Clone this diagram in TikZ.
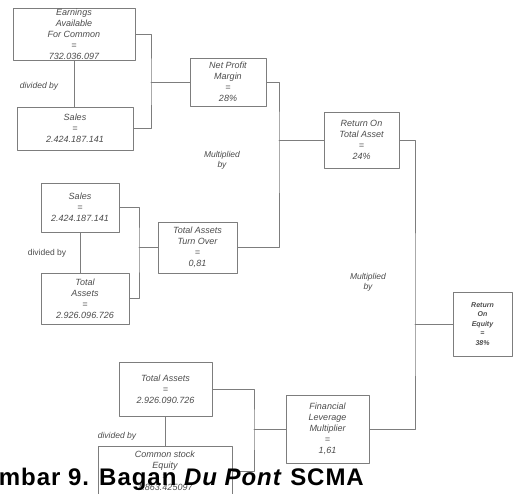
\documentclass[tikz,border=0pt]{standalone}
\usepackage{fontspec}
\setmainfont{Liberation Sans}
\definecolor{garis}{RGB}{125,125,125}
\definecolor{teks}{RGB}{75,75,75}
\begin{document}
\begin{tikzpicture}[line join = round, line cap = round,x=1pt,y=-1pt]
			\tikzset{kotak/.style={draw=garis,line width=0.8pt,inner sep=0pt,align=center,text=teks,
					font=\fontsize{9}{11}\selectfont\itshape},
				ket/.style={text=teks,align=center,font=\fontsize{8.5}{10}\selectfont\itshape},
				hub/.style={draw=garis,line width=0.8pt}}
			\useasboundingbox(0,0)rectangle(513,493);
			\clip(0,0)rectangle(513,493);
			% kolom kiri
			\node[kotak,minimum width=122pt,minimum height=52pt](earn)at(74,34){Earnings\\Available\\For Common\\=\\732.036.097};
			\node[kotak,minimum width=116pt,minimum height=43pt](sales)at(75,128.5){Sales\\=\\2.424.187.141};
			\node[kotak,minimum width=78pt,minimum height=49pt](sales2)at(80,207.5){Sales\\=\\2.424.187.141};
			\node[kotak,minimum width=88pt,minimum height=51pt](ta)at(85,298.5){Total\\Assets\\=\\2.926.096.726};
			\node[kotak,minimum width=93pt,minimum height=54pt](ta2)at(165.5,389){Total Assets\\=\\2.926.090.726};
			\node[kotak,minimum width=134pt,minimum height=50pt](cse)at(165,471){Common stock\\Equity\\=\\1.863.425097};
			% kolom tengah
			\node[kotak,minimum width=76pt,minimum height=48pt](npm)at(228,82){Net Profit\\Margin\\=\\28\%};
			\node[kotak,minimum width=79pt,minimum height=51pt](tato)at(197.5,247.5){Total Assets\\Turn Over\\=\\0,81};
			\node[kotak,minimum width=83pt,minimum height=68pt](flm)at(327.5,429){Financial\\Leverage\\Multiplier\\=\\1,61};
			\node[kotak,minimum width=75pt,minimum height=56pt](rota)at(361.5,140){Return On\\Total Asset\\=\\24\%};
			\node[kotak,minimum width=59pt,minimum height=64pt,font=\fontsize{7}{9.5}\selectfont\bfseries\itshape](roe)at(482.5,324){Return\\On\\Equity\\=\\38\%};
			% keterangan
			\node[ket](bagi1)at(39,86){divided by};
			\node[ket,font=\fontsize{8.5}{10}\selectfont](bagi2)at(47,253){divided by};
			\node[ket](bagi3)at(117,436){divided by};
			\node[ket](kali1)at(222,160){Multiplied\\by};
			\node[ket](kali2)at(368,282){Multiplied\\by};
			% titik sambung
			\coordinate(j1)at(151,82);
			\coordinate(j2)at(279,140);
			\coordinate(j3)at(415,324);
			\coordinate(j4)at(139,247.5);
			\coordinate(j5)at(254,429);
			% garis
			\draw[hub](earn.south)--(earn.south|-sales.north);
			\draw[hub](sales2.south)--(sales2.south|-ta.north);
			\draw[hub](ta2.south)--(ta2.south|-cse.north);
			\draw[hub](earn.east)-|(j1)|-(sales.east);
			\draw[hub](j1)--(npm.west);
			\draw[hub](sales2.east)-|(j4)|-(ta.east);
			\draw[hub](j4)--(tato.west);
			\draw[hub](npm.east)-|(j2)|-(tato.east);
			\draw[hub](j2)--(rota.west);
			\draw[hub](ta2.east)-|(j5)|-(cse.east);
			\draw[hub](j5)--(flm.west);
			\draw[hub](rota.east)-|(j3)|-(flm.east);
			\draw[hub](j3)--(roe.west);
			% judul
			\node[anchor=base east,inner sep=0pt,font=\fontsize{24}{24}\selectfont\bfseries\addfontfeature{LetterSpace=4}](judul)at(364,485){Gambar 9. Bagan \textit{Du Pont} SCMA};
		\end{tikzpicture}
\end{document}
